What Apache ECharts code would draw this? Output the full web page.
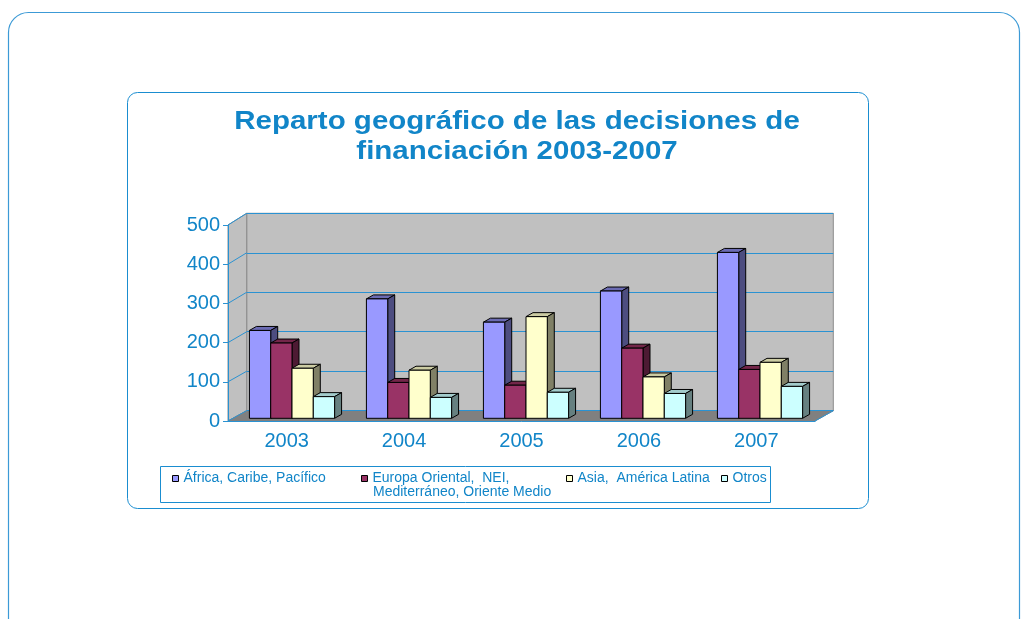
<!DOCTYPE html>
<html lang="es">
  <head>
    <meta charset="UTF-8" />
    <title>Reparto geográfico</title>
    <style>
      html, body { margin: 0; padding: 0; background: #fff; }
      #main { width: 1022px; height: 619px; }
    </style>
  </head>
  <body>
    <div id="main"></div>
    <script src="https://cdn.jsdelivr.net/npm/echarts@6/dist/echarts.min.js"></script>
    <script>
      // datos
      var years = ['2003', '2004', '2005', '2006', '2007'];
      var seriesNames = ['África, Caribe, Pacífico', 'Europa Oriental,  NEI,', 'Asia,  América Latina', 'Otros'];
      var africa = [223, 303, 244, 323, 421];
      var europa = [191, 91, 84, 178, 124];
      var asia = [127, 122, 258, 105, 142];
      var otros = [55, 53, 66, 63, 81];
      var yTicks = [0, 100, 200, 300, 400, 500];

      // estilos
      var BLUE = '#1185c8';
      var LINE_BLUE = '#2a92d2';
      var FONT = '"Liberation Sans", Arial';
      var frontColors = ['#9999ff', '#993366', '#ffffcc', '#ccffff'];
      var sideColors = ['#4d4d80', '#4d1a33', '#808066', '#668080'];
      var topColors = ['#6b6bb3', '#732649', '#cccca3', '#a3cccc'];
      var DX = 7, DY = -4;

      // posiciones de la caja 3D
      var front = { left: 228, top: 225, right: 815, bottom: 421 };
      var back = { left: 246.7, top: 213.3, right: 833.3, bottom: 410.7 };

      var allValues = [africa, europa, asia, otros];

      function renderBar(params, api) {
        var s = params.seriesIndex;
        var cat = api.value(0);
        var val = api.value(1);
        var top = api.coord([cat, val]);
        var base = api.coord([cat, 0]);
        var band = api.size([1, 0])[0];
        var w = band * 0.182;
        var x0 = top[0] + (s - 2) * w;
        var x1 = x0 + w;
        var yt = top[1], yb = base[1];
        return {
          type: 'group',
          children: [
            { type: 'polygon', shape: { points: [[x0, yt], [x0 + DX, yt + DY], [x1 + DX, yt + DY], [x1, yt]] },
              style: { fill: topColors[s], stroke: '#000', lineWidth: 1 } },
            { type: 'polygon', shape: { points: [[x1, yt], [x1 + DX, yt + DY], [x1 + DX, yb + DY], [x1, yb]] },
              style: { fill: sideColors[s], stroke: '#000', lineWidth: 1 } },
            { type: 'rect', shape: { x: x0, y: yt, width: w, height: yb - yt },
              style: { fill: frontColors[s], stroke: '#000', lineWidth: 1 } }
          ]
        };
      }

      var series = seriesNames.map(function (name, i) {
        return {
          name: name,
          type: 'custom',
          xAxisIndex: 2,
          yAxisIndex: 2,
          renderItem: renderBar,
          itemStyle: { color: frontColors[i] },
          encode: { x: 0, y: 1 },
          data: allValues[i].map(function (v, j) { return [j, v]; })
        };
      });

      // lineas diagonales de la pared izquierda
      var wallLines = yTicks.map(function (v) {
        var fy = front.bottom - v / 500 * (front.bottom - front.top);
        var by = back.bottom - v / 500 * (back.bottom - back.top);
        return { type: 'line', shape: { x1: front.left, y1: fy, x2: back.left, y2: by },
          style: { stroke: LINE_BLUE, lineWidth: 1 }, z: 1 };
      });

      var legendX = [172, 361, 566, 721];
      var legends = seriesNames.map(function (name, i) {
        return {
          data: [name],
          left: legendX[i],
          top: 471.5,
          padding: 0,
          icon: 'rect',
          itemWidth: 6,
          itemHeight: 6,
          itemGap: 0,
          selectedMode: false,
          itemStyle: { borderColor: '#000', borderWidth: 1 },
          textStyle: { color: BLUE, fontSize: 14, fontFamily: FONT }
        };
      });

      var chart = echarts.init(document.getElementById('main'));
      var option = {
        animation: false,
        grid: [
          { left: back.left, top: back.top, width: back.right - back.left, height: back.bottom - back.top,
            show: true, backgroundColor: '#c0c0c0', borderColor: '#8c8c8c', borderWidth: 1 },
          { left: front.left, top: front.top, width: front.right - front.left, height: front.bottom - front.top },
          { left: 233.5, top: 221.3, width: 585, height: 197 }
        ],
        xAxis: [
          { gridIndex: 0, type: 'category', data: years, show: false },
          { gridIndex: 1, type: 'category', data: years,
            axisLine: { lineStyle: { color: LINE_BLUE, width: 1 } },
            axisTick: { length: 5, lineStyle: { color: LINE_BLUE } },
            axisLabel: { color: BLUE, fontSize: 20, fontFamily: FONT, margin: 10 } },
          { gridIndex: 2, type: 'category', data: years, show: false }
        ],
        yAxis: [
          { gridIndex: 0, type: 'value', min: 0, max: 500, interval: 100,
            axisLine: { show: false }, axisTick: { show: false }, axisLabel: { show: false },
            splitLine: { lineStyle: { color: LINE_BLUE, width: 1 } } },
          { gridIndex: 1, type: 'value', min: 0, max: 500, interval: 100,
            axisLine: { show: true, lineStyle: { color: LINE_BLUE, width: 1 } },
            axisTick: { show: true, length: 5, lineStyle: { color: LINE_BLUE } },
            splitLine: { show: false },
            axisLabel: { color: BLUE, fontSize: 20, fontFamily: FONT, margin: 8 } },
          { gridIndex: 2, type: 'value', min: 0, max: 500, show: false, splitLine: { show: false } }
        ],
        legend: legends,
        graphic: [
          { type: 'rect', shape: { x: 8.5, y: 12.5, width: 1011, height: 700, r: 20 },
            style: { fill: 'none', stroke: '#3c9ad6', lineWidth: 1.2 }, z: 0 },
          { type: 'rect', shape: { x: 127.5, y: 92.5, width: 741, height: 416, r: 10 },
            style: { fill: 'none', stroke: '#1a8dd0', lineWidth: 1 }, z: 0 },
          { type: 'rect', shape: { x: 160.5, y: 466.5, width: 610, height: 36 },
            style: { fill: 'none', stroke: '#1a8dd0', lineWidth: 1 }, z: 0 },
          { type: 'polygon', shape: { points: [[front.left, front.bottom], [front.left, front.top], [back.left, back.top], [back.left, back.bottom]] },
            style: { fill: '#c0c0c0', stroke: '#8c8c8c', lineWidth: 1 }, z: 0 },
          { type: 'polygon', shape: { points: [[front.left, front.bottom], [front.right, front.bottom], [back.right, back.bottom], [back.left, back.bottom]] },
            style: { fill: '#808080', stroke: '#808080', lineWidth: 1 }, z: 0 },
          { type: 'line', shape: { x1: front.right, y1: front.bottom, x2: back.right, y2: back.bottom },
            style: { stroke: LINE_BLUE, lineWidth: 1 }, z: 1 },
          { type: 'text', x: 517, y: 122, scaleX: 1.18,
            style: { text: 'Reparto geográfico de las decisiones de', fill: BLUE, font: 'bold 25px ' + FONT,
              textAlign: 'center', textVerticalAlign: 'middle' } },
          { type: 'text', x: 517, y: 152, scaleX: 1.18,
            style: { text: 'financiación 2003-2007', fill: BLUE, font: 'bold 25px ' + FONT,
              textAlign: 'center', textVerticalAlign: 'middle' } },
          { type: 'text', x: 373, y: 492.5,
            style: { text: 'Mediterráneo, Oriente Medio', fill: BLUE, font: '14px ' + FONT,
              textAlign: 'left', textVerticalAlign: 'middle' } }
        ].concat(wallLines),
        series: series
      };
      chart.setOption(option);
    </script>
  </body>
</html>
